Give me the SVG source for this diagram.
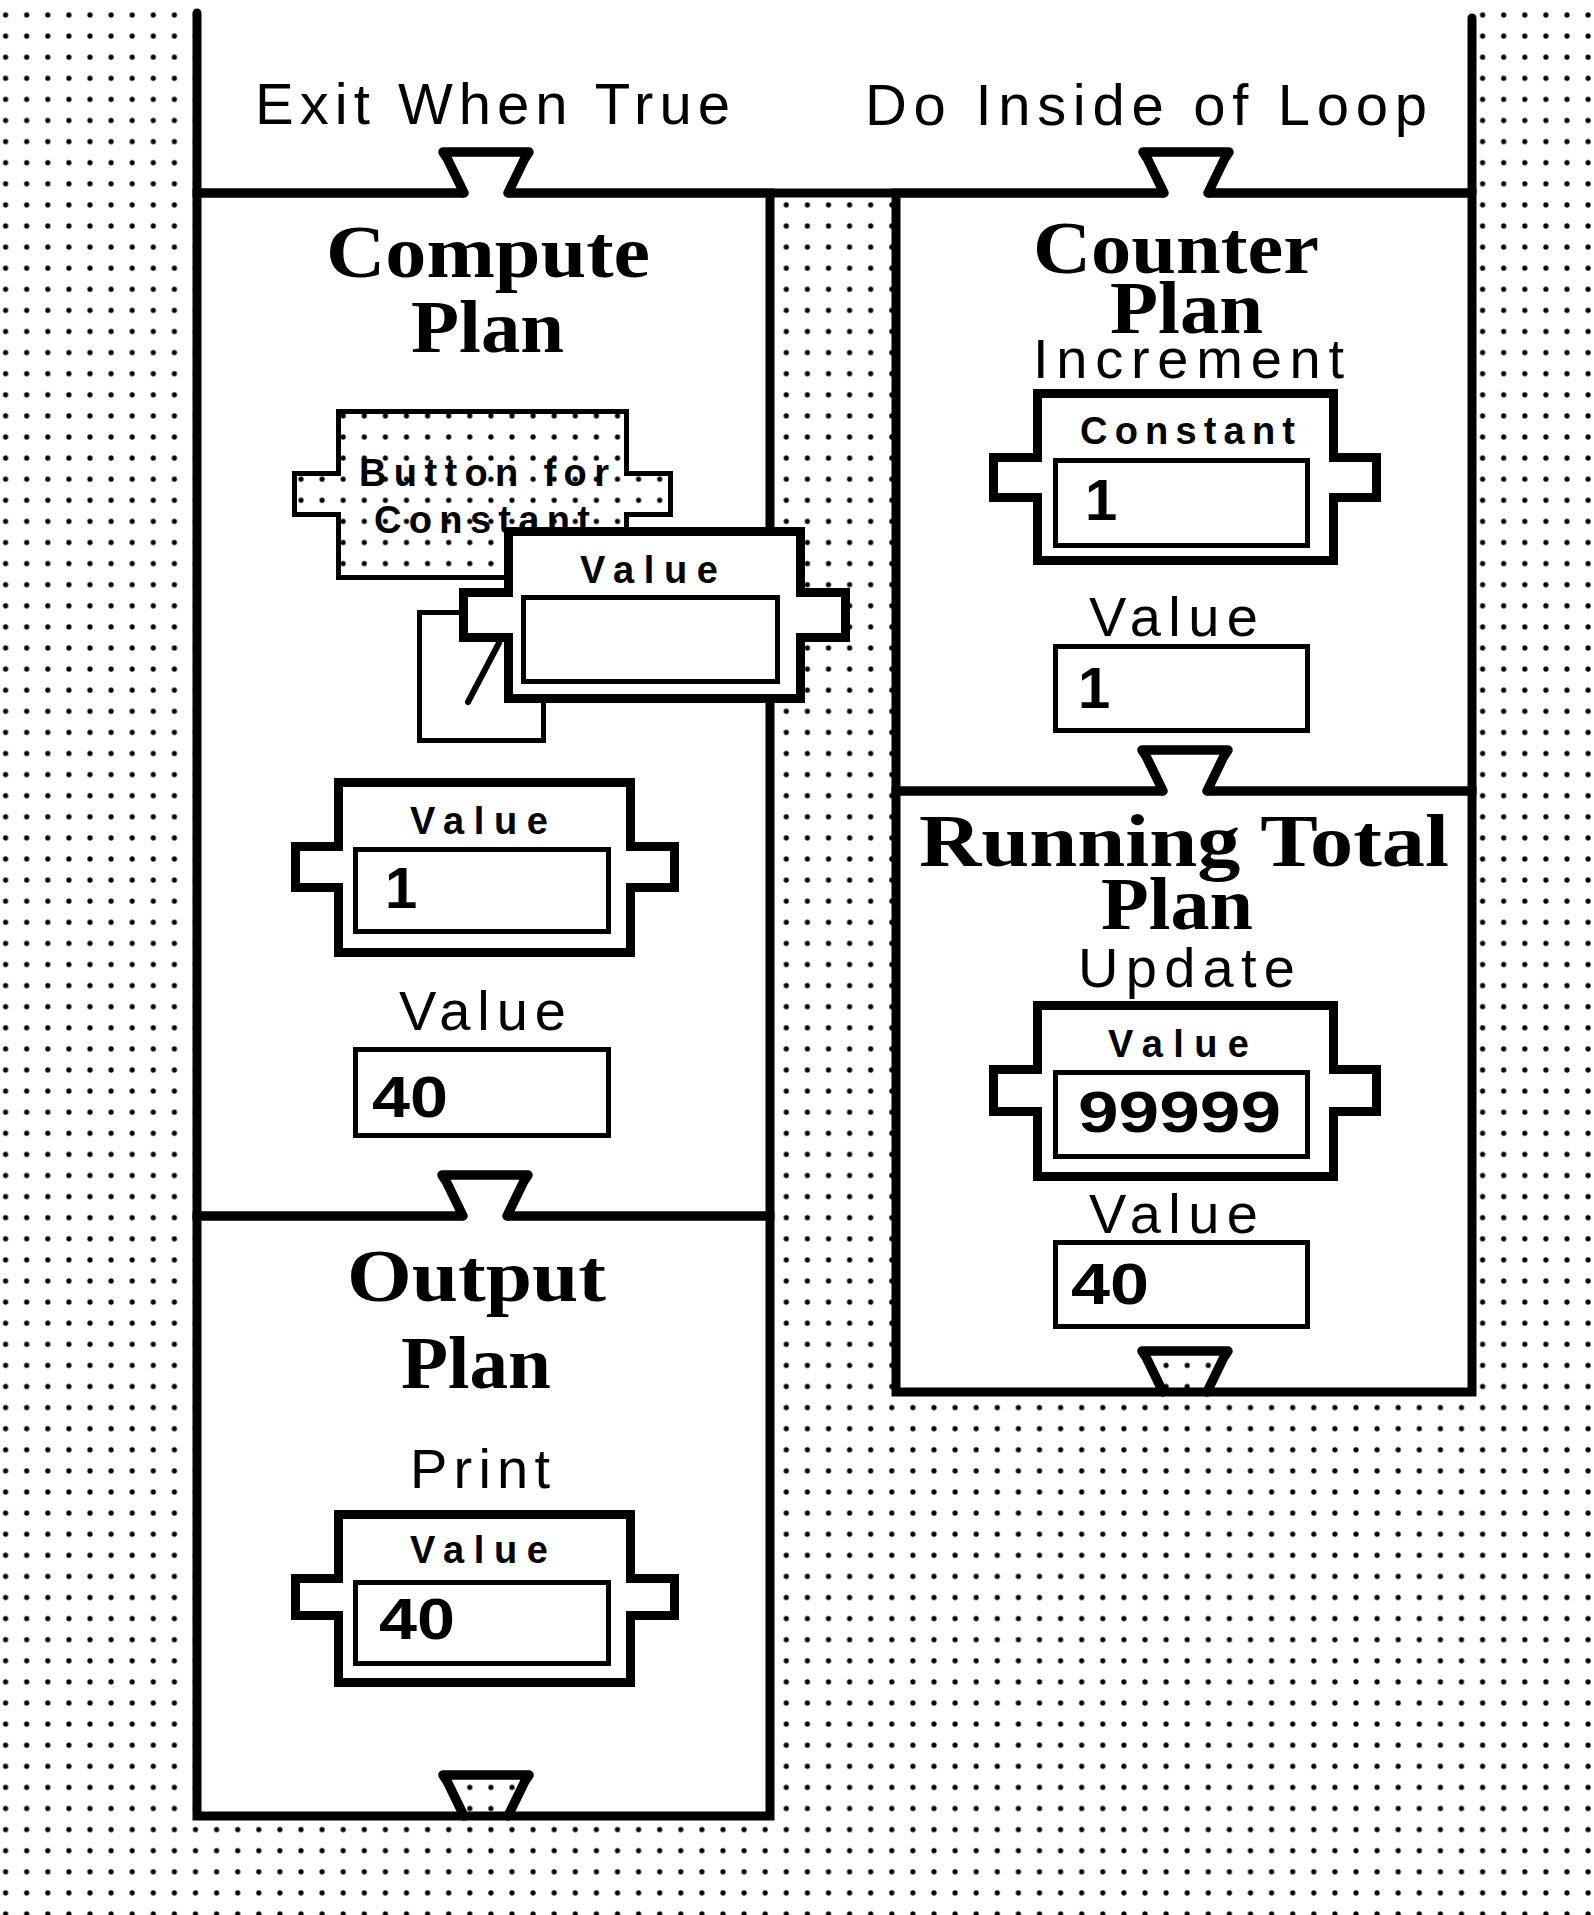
<svg xmlns="http://www.w3.org/2000/svg" width="1594" height="1915" viewBox="0 0 1594 1915">
<defs>
<pattern id="dots" patternUnits="userSpaceOnUse" x="16.15" y="4.45" width="21.1" height="21.1"><circle cx="10.55" cy="10.55" r="2.6" fill="#000"/></pattern>
<style>
.frame{fill:none;stroke:#000;stroke-width:9;stroke-linecap:round}
.box{fill:none;stroke:#000;stroke-width:9}
.comp{fill:#fff;stroke:#000;stroke-width:9;stroke-linejoin:miter}
.field{fill:#fff;stroke:#000;stroke-width:5}
.lbl{font-family:"Liberation Sans",Arial,sans-serif;font-size:56px;fill:#000}
.top{font-size:58px}
.ttl{font-family:"Liberation Serif","Times New Roman",serif;font-weight:bold;font-size:74px;fill:#000}
.sm{font-family:"Liberation Sans",Arial,sans-serif;font-weight:bold;font-size:38px;fill:#000}
.num{font-family:"Liberation Sans",Arial,sans-serif;font-weight:bold;font-size:58px;fill:#000}
.tabw{fill:#fff}
.tabd{fill:url(#dots)}
.tab{fill:none;stroke:#000;stroke-width:9.5;stroke-linejoin:round;stroke-linecap:round}
</style>
</defs>
<g id="background">
<rect width="1594" height="1915" fill="#fff"/>
<rect width="1594" height="1915" fill="url(#dots)"/>
<rect x="197" y="0" width="1275" height="193" fill="#fff"/>
<rect x="197" y="193" width="573" height="1623" fill="#fff"/>
<rect x="896" y="193" width="576" height="1199" fill="#fff"/>
</g>
<g id="loop">
<path class="frame" d="M197,13 V193 H1472 M1472,18 V193"/>
<text class="lbl top" x="255" y="124" textLength="475">Exit When True</text>
<text class="lbl top" x="865" y="125" textLength="562">Do Inside of Loop</text>
</g>
<g id="compute-plan">
<rect class="box" x="197" y="193" width="573" height="1023"/>
<text class="ttl" x="326" y="277" textLength="324" lengthAdjust="spacingAndGlyphs">Compute</text>
<text class="ttl" x="411" y="352" textLength="153" lengthAdjust="spacingAndGlyphs">Plan</text>
<g id="button-for-constant">
<path d="M338.5,411.5 H626.5 V473.5 H670.5 V514.5 H626.5 V577.5 H338.5 V514.5 H294.5 V473.5 H338.5 Z" fill="url(#dots)" stroke="#000" stroke-width="5"/>
<text class="sm" x="359" y="486" font-size="40" textLength="250">Button for</text>
<text class="sm" x="374" y="533" font-size="40" textLength="216">Constant</text>
</g>
<rect x="419.5" y="612.5" width="124" height="128" fill="#fff" stroke="#000" stroke-width="5"/>
<line x1="468" y1="702" x2="499" y2="643" stroke="#000" stroke-width="6" stroke-linecap="round"/>
<g id="floating-value">
<path class="comp" d="M508.5,531.5 H800.5 V592.5 H845.5 V637.5 H800.5 V698.5 H508.5 V637.5 H463.5 V592.5 H508.5 Z"/>
<text class="sm" x="580" y="583" textLength="138">Value</text>
<rect class="field" x="523.5" y="597.5" width="254" height="84"/>
</g>
<g id="compute-value-1">
<path class="comp" d="M338.5,782.5 H630.5 V846.5 H674.5 V887.5 H630.5 V952.5 H338.5 V887.5 H295.5 V846.5 H338.5 Z"/>
<text class="sm" x="410" y="834" textLength="138">Value</text>
<rect class="field" x="355.5" y="849.5" width="253" height="82"/>
<text class="num" x="385" y="908">1</text>
</g>
<g id="compute-value-40">
<text class="lbl" x="399" y="1030" textLength="167">Value</text>
<rect class="field" x="355.5" y="1049.5" width="253" height="86"/>
<text class="num" x="372" y="1117" textLength="76" lengthAdjust="spacingAndGlyphs">40</text>
</g>
</g>
<g id="output-plan">
<rect class="box" x="197" y="1216" width="573" height="600"/>
<text class="ttl" x="347" y="1301" textLength="259" lengthAdjust="spacingAndGlyphs">Output</text>
<text class="ttl" x="401" y="1388" textLength="150" lengthAdjust="spacingAndGlyphs">Plan</text>
<text class="lbl" x="410" y="1488" textLength="140">Print</text>
<path class="comp" d="M338.5,1514.5 H630.5 V1578.5 H674.5 V1615.5 H630.5 V1682.5 H338.5 V1615.5 H295.5 V1578.5 H338.5 Z"/>
<text class="sm" x="410" y="1563" textLength="138">Value</text>
<rect class="field" x="355.5" y="1582.5" width="253" height="81"/>
<text class="num" x="379" y="1639" textLength="76" lengthAdjust="spacingAndGlyphs">40</text>
</g>
<g id="counter-plan">
<rect class="box" x="896" y="193" width="576" height="598"/>
<text class="ttl" x="1033" y="273" textLength="286" lengthAdjust="spacingAndGlyphs">Counter</text>
<text class="ttl" x="1110" y="333" textLength="153" lengthAdjust="spacingAndGlyphs">Plan</text>
<text class="lbl" x="1033" y="378" textLength="311">Increment</text>
<path class="comp" d="M1037.5,393.5 H1333.5 V457.5 H1376.5 V497.5 H1333.5 V560.5 H1037.5 V497.5 H993.5 V457.5 H1037.5 Z"/>
<text class="sm" x="1080" y="444" font-size="40" textLength="215">Constant</text>
<rect class="field" x="1055.5" y="460.5" width="252" height="85"/>
<text class="num" x="1085" y="520">1</text>
<text class="lbl" x="1089" y="636" textLength="169">Value</text>
<rect class="field" x="1055.5" y="646.5" width="252" height="84"/>
<text class="num" x="1078" y="708">1</text>
</g>
<g id="running-total-plan">
<rect class="box" x="896" y="791" width="576" height="601"/>
<text class="ttl" x="919" y="866" textLength="530" lengthAdjust="spacingAndGlyphs">Running Total</text>
<text class="ttl" x="1101" y="929" textLength="152" lengthAdjust="spacingAndGlyphs">Plan</text>
<text class="lbl" x="1078" y="987" textLength="217">Update</text>
<path class="comp" d="M1037.5,1005.5 H1333.5 V1069.5 H1376.5 V1111.5 H1333.5 V1176.5 H1037.5 V1111.5 H993.5 V1069.5 H1037.5 Z"/>
<text class="sm" x="1108" y="1057" textLength="141">Value</text>
<rect class="field" x="1055.5" y="1072.5" width="252" height="84"/>
<text class="num" x="1078" y="1132" textLength="203" lengthAdjust="spacingAndGlyphs">99999</text>
<text class="lbl" x="1089" y="1233" textLength="169">Value</text>
<rect class="field" x="1055.5" y="1242.5" width="252" height="84"/>
<text class="num" x="1071" y="1304" textLength="78" lengthAdjust="spacingAndGlyphs">40</text>
</g>
<g id="connectors">
<path class="tabw" d="M464,198 V193 L447,158 L443,152 H529 L525,158 L508,193 V198 Z"/>
<path class="tab" d="M464,193 L447,158 L443,152 H529 L525,158 L508,193"/>
<path class="tabw" d="M1164,198 V193 L1147,158 L1143,152 H1229 L1225,158 L1208,193 V198 Z"/>
<path class="tab" d="M1164,193 L1147,158 L1143,152 H1229 L1225,158 L1208,193"/>
<path class="tabw" d="M463,1221 V1216 L446,1181 L442,1175 H528 L524,1181 L507,1216 V1221 Z"/>
<path class="tab" d="M463,1216 L446,1181 L442,1175 H528 L524,1181 L507,1216"/>
<path class="tabd" d="M464,1821 V1816 L447,1781 L443,1775 H529 L525,1781 L508,1816 V1821 Z"/>
<path class="tab" d="M464,1816 L447,1781 L443,1775 H529 L525,1781 L508,1816"/>
<path class="tabw" d="M1163,796 V791 L1146,756 L1142,750 H1228 L1224,756 L1207,791 V796 Z"/>
<path class="tab" d="M1163,791 L1146,756 L1142,750 H1228 L1224,756 L1207,791"/>
<path class="tabd" d="M1163,1397 V1392 L1146,1357 L1142,1351 H1228 L1224,1357 L1207,1392 V1397 Z"/>
<path class="tab" d="M1163,1392 L1146,1357 L1142,1351 H1228 L1224,1357 L1207,1392"/>
</g>
</svg>
